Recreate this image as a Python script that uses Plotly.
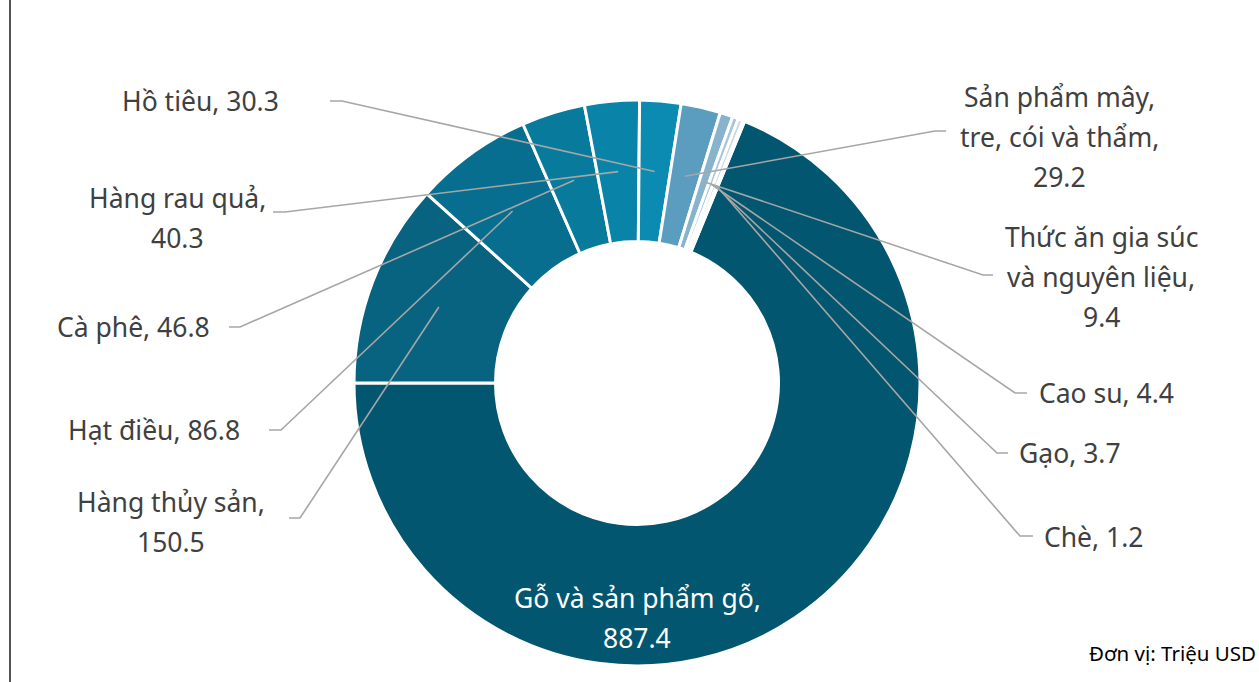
import math
import textwrap
import plotly.graph_objects as go

# ---------------- data ----------------
categories = ["Gỗ và sản phẩm gỗ", "Hàng thủy sản", "Hạt điều", "Cà phê", "Hàng rau quả",
              "Hồ tiêu", "Sản phẩm mây, tre, cói và thẩm", "Thức ăn gia súc và nguyên liệu",
              "Cao su", "Gạo", "Chè"]
values = [887.4, 150.5, 86.8, 46.8, 40.3, 30.3, 29.2, 9.4, 4.4, 3.7, 1.2]
unit_note = "Đơn vị: Triệu USD"

# ---------------- style / layout ----------------
colors = ["#03566f", "#07637f", "#076e8f", "#087a9c", "#0984a8", "#0b8bb2",
          "#5b9dbe", "#88b3cc", "#a8c7da", "#c4d8e6", "#dde8f0"]
W, H = 1259, 682
CX, CY, R = 637, 383, 283
HOLE = 0.5
LEADER_R = 0.75
FONT = "Noto Sans"
FS = 26.5
LINE_H = 40
TXT = "#404040"

# label placement: x centre, y of first line, wrap width, elbow (x, y), end x  (pixels)
placement = [
    (637, 598, 19, None, None),
    (171, 502, 14, (300, 518), 289),
    (154, 430, 20, (281, 430), 269),
    (133, 327, 20, (240, 327), 229),
    (177, 198, 13, (285, 212), 273),
    (200, 101, 20, (342, 101), 330),
    (1059, 97, 17, (935, 131), 946),
    (1101, 237, 15, (983, 275), 993),
    (1106, 393, 20, (1015, 393), 1027),
    (1070, 453, 20, (997, 453), 1008),
    (1093, 537, 20, (1020, 536), 1033),
]


def px(x):
    return x / W


def py(y):
    return 1 - y / H


total = sum(values)
rotation = 270 - 360 * values[0] / total

fig = go.Figure(go.Pie(
    labels=categories, values=values, hole=HOLE, sort=False,
    direction="clockwise", rotation=rotation,
    marker=dict(colors=colors, line=dict(color="white", width=3)),
    textinfo="none", hoverinfo="label+value", showlegend=False,
    domain=dict(x=[px(CX - R), px(CX + R)], y=[py(CY + R), py(CY - R)]),
))

shapes = []
annotations = []
start = rotation
for i, (name, v) in enumerate(zip(categories, values)):
    sweep = 360 * v / total
    mid = math.radians(start + sweep / 2)
    start += sweep
    lx, ly, wrapw, elbow, endx = placement[i]
    lines = textwrap.wrap(f"{name}, {v}", width=wrapw)
    col = "white" if i == 0 else TXT
    for k, line in enumerate(lines):
        annotations.append(dict(
            x=px(lx), y=py(ly + k * LINE_H), xref="paper", yref="paper",
            text=line, showarrow=False, xanchor="center", yanchor="middle",
            font=dict(family=FONT, size=FS, color=col)))
    if elbow is not None:
        ix = CX + LEADER_R * R * math.sin(mid)
        iy = CY - LEADER_R * R * math.cos(mid)
        path = (f"M {px(ix)} {py(iy)} L {px(elbow[0])} {py(elbow[1])} "
                f"L {px(endx)} {py(elbow[1])}")
        shapes.append(dict(type="path", xref="paper", yref="paper", path=path,
                           line=dict(color="#a6a6a6", width=1.6)))

# frame line on the left
shapes.append(dict(type="line", xref="paper", yref="paper",
                   x0=px(10), x1=px(10), y0=0, y1=1,
                   line=dict(color="#1a1a1a", width=1.5)))

annotations.append(dict(
    x=px(1258), y=py(653), xref="paper", yref="paper", text=unit_note,
    showarrow=False, xanchor="right", yanchor="middle",
    font=dict(family=FONT, size=20.5, color="black")))

fig.update_layout(
    width=W, height=H, margin=dict(l=0, r=0, t=0, b=0),
    paper_bgcolor="white", plot_bgcolor="white",
    shapes=shapes, annotations=annotations,
)

fig.write_html("out.html", config={"displayModeBar": False},
               post_script="document.body.style.margin='0';document.body.style.overflow='hidden';")
